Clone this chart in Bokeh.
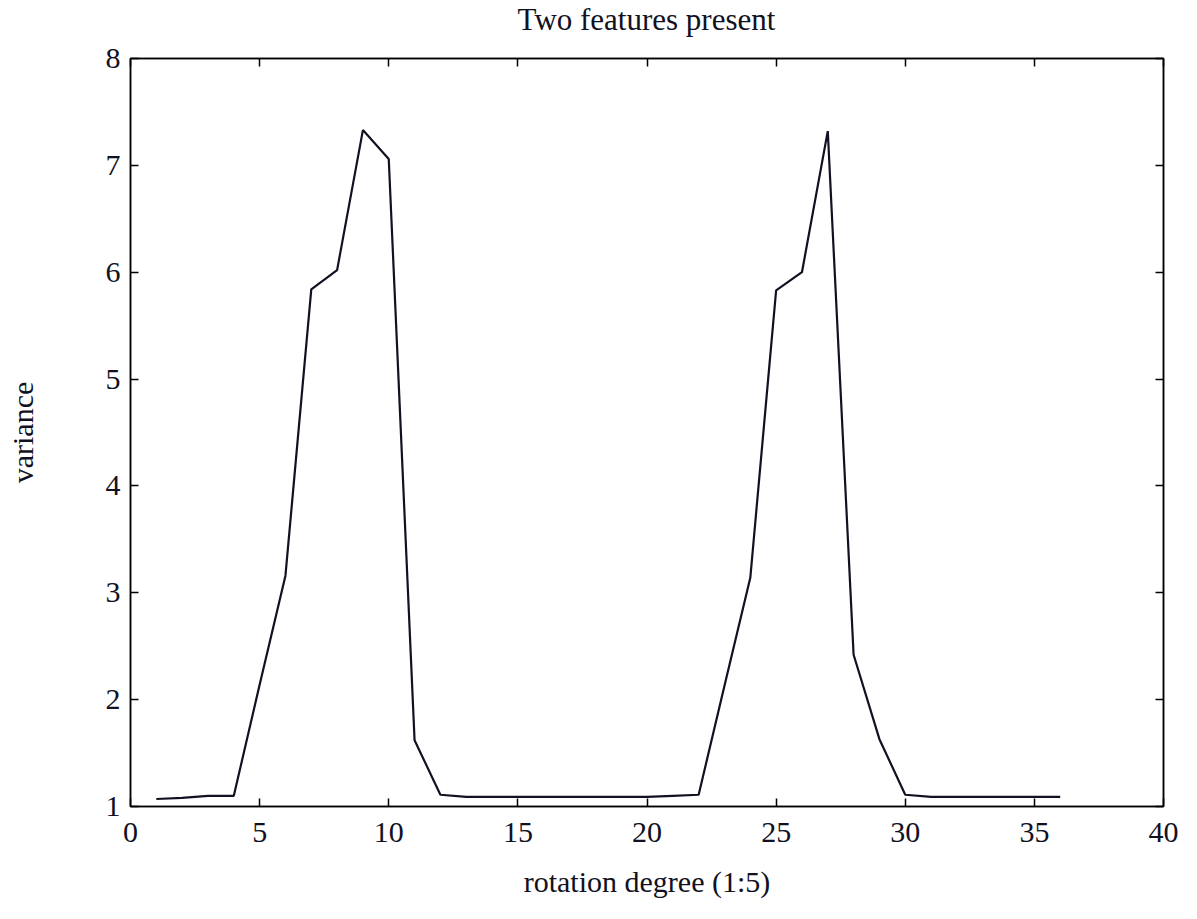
from bokeh.plotting import figure
from bokeh.models import LinearAxis, Range1d, FixedTicker, Div
from bokeh.layouts import column
from bokeh.embed import file_html
from bokeh.resources import INLINE

rotation = list(range(1, 37))
variance = [1.07, 1.08, 1.10, 1.10, 2.14, 3.16, 5.84, 6.02, 7.33, 7.06,
            1.62, 1.11, 1.09, 1.09, 1.09, 1.09, 1.09, 1.09, 1.09, 1.09,
            1.10, 1.11, 2.13, 3.14, 5.83, 6.00, 7.32, 2.42, 1.63, 1.11,
            1.09, 1.09, 1.09, 1.09, 1.09, 1.09]

x_ticks = [0, 5, 10, 15, 20, 25, 30, 35, 40]
y_ticks = [1, 2, 3, 4, 5, 6, 7, 8]
title_text = "Two features present"

FONT = "Liberation Serif"
W = 1180
BL, BR = 130, 17
TITLE_H = 38

title = Div(text=title_text, width=W - BL - BR, height=TITLE_H, margin=(0, 0, 0, BL),
            styles={"text-align": "center", "font-family": FONT, "font-size": "31px",
                    "color": "#111122", "line-height": f"{TITLE_H + 2}px",
                    "white-space": "nowrap"})

p = figure(width=W, height=900 - TITLE_H, output_backend="svg", toolbar_location=None,
           x_range=Range1d(0, 40), y_range=Range1d(1, 8),
           min_border_left=BL, min_border_right=BR,
           min_border_top=58 - TITLE_H, min_border_bottom=91)

p.line(rotation, variance, line_color="#111122", line_width=2.2)

p.grid.visible = False
p.outline_line_color = "black"
p.outline_line_width = 1.5
p.background_fill_color = "white"
p.border_fill_color = "white"

def style_axis(ax, labels=True):
    ax.minor_tick_line_color = None
    ax.major_tick_in = 8
    ax.major_tick_out = 0
    ax.major_tick_line_width = 1.5
    ax.axis_line_width = 1.5
    ax.axis_line_color = "black"
    ax.major_tick_line_color = "black"
    ax.major_label_text_font = FONT
    ax.major_label_text_font_size = "30px"
    ax.major_label_text_color = "#111122"
    ax.axis_label_text_font = FONT
    ax.axis_label_text_font_size = "30px"
    ax.axis_label_text_font_style = "normal"
    ax.axis_label_text_color = "#111122"
    if not labels:
        ax.major_label_overrides = {t: "" for t in ax.ticker.ticks}
        ax.major_label_standoff = 0

p.xaxis.ticker = FixedTicker(ticks=x_ticks)
p.yaxis.ticker = FixedTicker(ticks=y_ticks)
style_axis(p.xaxis[0])
style_axis(p.yaxis[0])
p.xaxis.axis_label = "rotation degree (1:5)"
p.yaxis.axis_label = "variance"
p.xaxis.major_label_standoff = 16
p.yaxis.major_label_standoff = 10
p.xaxis.axis_label_standoff = 20
p.yaxis.axis_label_standoff = 64

top = LinearAxis(ticker=FixedTicker(ticks=x_ticks))
style_axis(top, labels=False)
p.add_layout(top, "above")
right = LinearAxis(ticker=FixedTicker(ticks=y_ticks))
style_axis(right, labels=False)
p.add_layout(right, "right")

layout = column(title, p, spacing=0)
open("out.html", "w").write(file_html(layout, INLINE))
